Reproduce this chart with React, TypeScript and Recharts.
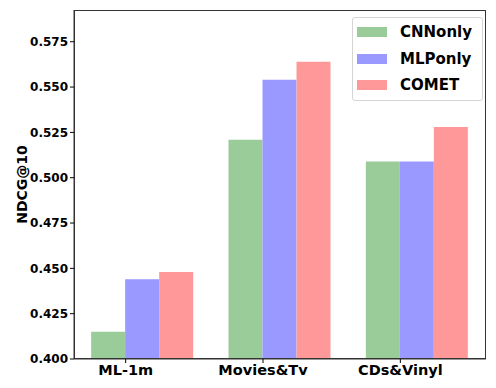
import { Bar, BarChart, XAxis, YAxis } from 'recharts';

const categories = ['ML-1m', 'Movies&Tv', 'CDs&Vinyl'];
const cnnOnly = [0.415, 0.521, 0.509];
const mlpOnly = [0.444, 0.554, 0.509];
const comet = [0.448, 0.564, 0.528];
const yTicks = [0.4, 0.425, 0.45, 0.475, 0.5, 0.525, 0.55, 0.575];

const SERIES = [
  { key: 'CNNonly', color: '#99cc99' },
  { key: 'MLPonly', color: '#9999ff' },
  { key: 'COMET', color: '#ff9999' },
];

const FONT = '"DejaVu Sans", sans-serif';
// tick sits on the boundary between first and second bar (half a bar left of centre)
const TICK_SHIFT = -17;

const data = categories.map((name, i) => ({
  name,
  CNNonly: cnnOnly[i],
  MLPonly: mlpOnly[i],
  COMET: comet[i],
}));

const XTick = (props: any) => {
  const { x, y, payload } = props;
  const tx = x + TICK_SHIFT;
  return (
    <g>
      <line x1={tx} x2={tx} y1={y - 6} y2={y - 2} stroke="#000" />
      <text
        x={tx}
        y={y}
        dy="0.71em"
        textAnchor="middle"
        fill="#000"
        fontFamily={FONT}
        fontWeight="bold"
        fontSize={14.5}
      >
        {payload.value}
      </text>
    </g>
  );
};

const LegendBox = () => (
  <div
    style={{
      position: 'absolute',
      left: 352,
      top: 17,
      width: 125,
      border: '1px solid #d5d5d5',
      borderRadius: 3,
      background: 'rgba(255,255,255,0.8)',
      padding: '1px 0 1px 4px',
      fontFamily: FONT,
      fontWeight: 'bold',
      fontSize: 15,
      color: '#000',
    }}
  >
    {SERIES.map(s => (
      <div key={s.key} style={{ display: 'flex', alignItems: 'center', height: 26.5 }}>
        <span style={{ width: 30, height: 10, background: s.color, marginRight: 13 }} />
        <span>{s.key}</span>
      </div>
    ))}
  </div>
);

export default function App() {
  return (
    <div style={{ position: 'absolute', left: 0, top: 0, width: 496, height: 388, background: '#fff' }}>
      <BarChart
        width={496}
        height={388}
        data={data}
        margin={{ top: 10, right: 10, bottom: 0, left: 0 }}
        barCategoryGap="12.5%"
        barGap={0}
      >
        <XAxis
          dataKey="name"
          height={29}
          tickSize={4}
          tickLine={false}
          axisLine={{ stroke: '#333' }}
          tick={<XTick />}
          interval={0}
        />
        <YAxis
          width={74}
          domain={[0.4, 0.5925]}
          ticks={yTicks}
          allowDataOverflow
          tickSize={4}
          tickLine={{ stroke: '#000' }}
          axisLine={{ stroke: '#333' }}
          tickFormatter={(v: number) => v.toFixed(3)}
          tick={{ fill: '#000', fontFamily: FONT, fontWeight: 'bold', fontSize: 12 }}
          label={{
            value: 'NDCG@10',
            angle: -90,
            position: 'insideLeft',
            offset: 22,
            style: { fill: '#000', fontFamily: FONT, fontWeight: 'bold', fontSize: 14, textAnchor: 'middle' },
          }}
        />
        {SERIES.map(s => (
          <Bar key={s.key} dataKey={s.key} fill={s.color} isAnimationActive={false} />
        ))}
      </BarChart>
      {/* axes frame (top/right spines) */}
      <div
        style={{
          position: 'absolute',
          left: 74,
          top: 10,
          width: 412,
          height: 349,
          border: '1px solid #333',
          boxSizing: 'border-box',
          pointerEvents: 'none',
        }}
      />
      <LegendBox />
    </div>
  );
}
